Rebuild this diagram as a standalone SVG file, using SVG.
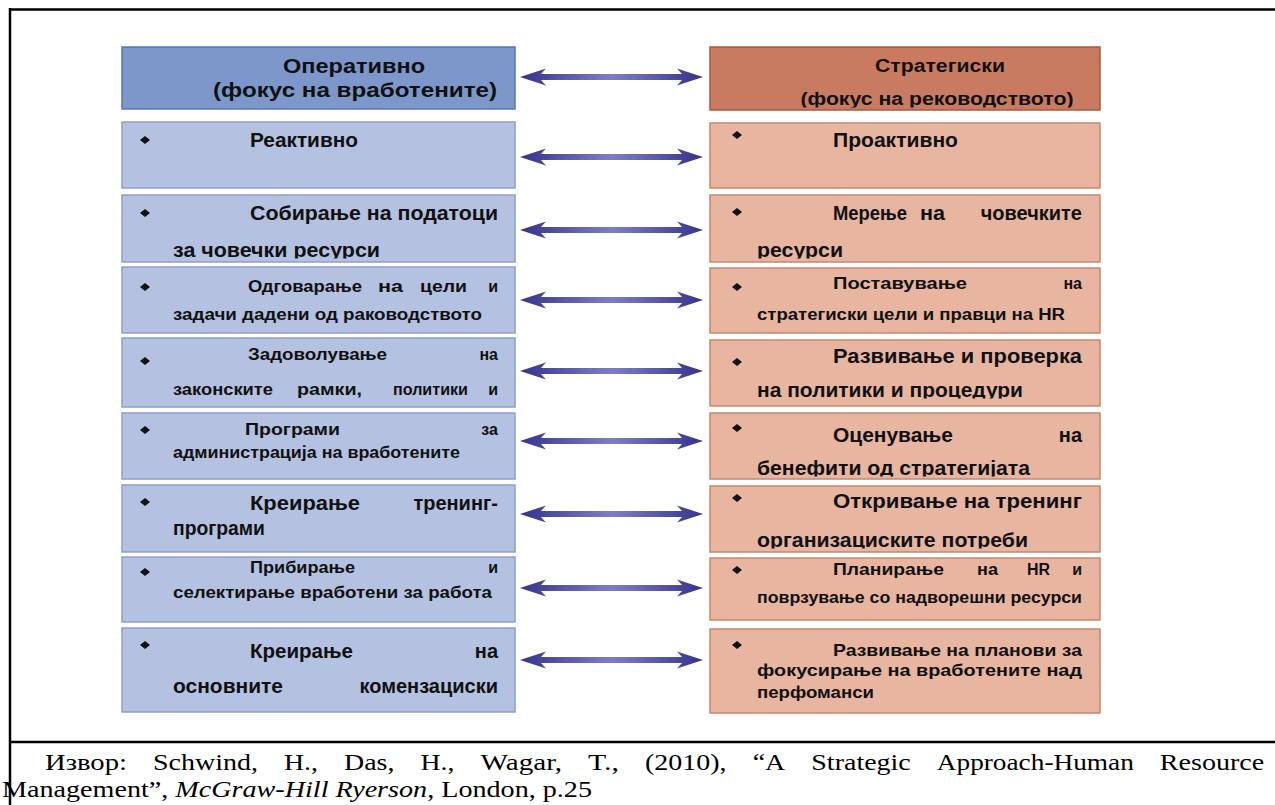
<svg xmlns="http://www.w3.org/2000/svg" xmlns:xlink="http://www.w3.org/1999/xlink" width="1275" height="805" viewBox="0 0 1275 805">
<style>
.t{font-family:"Liberation Sans",Arial,sans-serif;font-weight:bold;fill:#111;}
.h1{font-size:21px}
.h2{font-size:18px}
.b{font-size:20px}
.s{font-size:16px}
.m{font-size:17px}
.lh{fill:#7d97cb;stroke:#5876b3;stroke-width:1.5}
.rh{fill:#c97b62;stroke:#a9583f;stroke-width:1.5}
.lb{fill:#b4c1e1;stroke:#8d9fcb;stroke-width:1.5}
.rb{fill:#e8b5a1;stroke:#c98670;stroke-width:1.5}
.cap{font-family:"Liberation Serif","Times New Roman",serif;font-size:23px;fill:#000}
.frame{stroke:#000;stroke-width:2.5;fill:none}
</style>
<defs>
<linearGradient id="ag" x1="0" y1="0" x2="1" y2="0">
<stop offset="0" stop-color="#35338c"/>
<stop offset="0.5" stop-color="#7f7ec4"/>
<stop offset="1" stop-color="#35338c"/>
</linearGradient>
<path id="arrow" d="M520,0 L546,-8.5 L541,-3 L682,-3 L677,-8.5 L703,0 L677,8.5 L682,3 L541,3 L546,8.5 Z" fill="url(#ag)"/>
<path id="bul" d="M-5,0 L0,-4 L5,0 L0,4 Z" fill="#111"/>
<clipPath id="cRH"><rect x="710" y="47" width="390" height="60.5"/></clipPath>
<clipPath id="cL2"><rect x="122" y="195" width="393" height="63.5"/></clipPath>
<clipPath id="cR2"><rect x="710" y="195" width="390" height="63.5"/></clipPath>
<clipPath id="cR4"><rect x="710" y="340" width="390" height="58.5"/></clipPath>
<clipPath id="cR5"><rect x="710" y="413" width="390" height="63.5"/></clipPath>
<clipPath id="cR6"><rect x="710" y="486" width="390" height="62.5"/></clipPath>
</defs>

<g id="frame">
<line class="frame" x1="10" y1="8" x2="10" y2="805"/>
<line class="frame" x1="9" y1="9.5" x2="1275" y2="9.5"/>
<line class="frame" x1="9" y1="742" x2="1275" y2="742"/>
</g>

<g id="connectors">
<use xlink:href="#arrow" href="#arrow" y="77"/>
<use xlink:href="#arrow" href="#arrow" y="157"/>
<use xlink:href="#arrow" href="#arrow" y="230"/>
<use xlink:href="#arrow" href="#arrow" y="300"/>
<use xlink:href="#arrow" href="#arrow" y="371"/>
<use xlink:href="#arrow" href="#arrow" y="441"/>
<use xlink:href="#arrow" href="#arrow" y="514"/>
<use xlink:href="#arrow" href="#arrow" y="588"/>
<use xlink:href="#arrow" href="#arrow" y="660"/>
</g>

<g id="left-header">
<rect class="lh" x="122" y="47" width="393" height="62"/>
<text class="t h1" x="354" y="73" text-anchor="middle" textLength="142" lengthAdjust="spacingAndGlyphs">Оперативно</text>
<text class="t h1" x="355" y="97" text-anchor="middle" textLength="284" lengthAdjust="spacingAndGlyphs">(фокус на вработените)</text>
</g>

<g id="right-header">
<rect class="rh" x="710" y="47" width="390" height="63"/>
<text class="t h2" x="940" y="72" text-anchor="middle" textLength="130" lengthAdjust="spacingAndGlyphs">Стратегиски</text>
<g clip-path="url(#cRH)"><text class="t h2" x="937" y="105" text-anchor="middle" textLength="273" lengthAdjust="spacingAndGlyphs">(фокус на реководството)</text></g>
</g>

<g id="left-1">
<rect class="lb" x="122" y="122" width="393" height="66"/>
<use xlink:href="#bul" href="#bul" x="145" y="140"/>
<text class="t b" x="250" y="147" textLength="108" lengthAdjust="spacingAndGlyphs">Реактивно</text>
</g>

<g id="left-2">
<rect class="lb" x="122" y="195" width="393" height="67"/>
<use xlink:href="#bul" href="#bul" x="145" y="213"/>
<text class="t b" x="250" y="220" textLength="248" lengthAdjust="spacingAndGlyphs">Собирање на податоци</text>
<g clip-path="url(#cL2)"><text class="t b" x="173" y="257" textLength="207" lengthAdjust="spacingAndGlyphs">за човечки ресурси</text></g>
</g>

<g id="left-3">
<rect class="lb" x="122" y="267" width="393" height="66"/>
<use xlink:href="#bul" href="#bul" x="145" y="287"/>
<text class="t s" x="248" y="292" textLength="114" lengthAdjust="spacingAndGlyphs">Одговарање</text>
<text class="t s" x="378" y="292" textLength="25" lengthAdjust="spacingAndGlyphs">на</text>
<text class="t s" x="420" y="292" textLength="47" lengthAdjust="spacingAndGlyphs">цели</text>
<text class="t s" x="498" y="292" text-anchor="end">и</text>
<text class="t s" x="173" y="320" textLength="309" lengthAdjust="spacingAndGlyphs">задачи дадени од раководството</text>
</g>

<g id="left-4">
<rect class="lb" x="122" y="338" width="393" height="69"/>
<use xlink:href="#bul" href="#bul" x="145" y="361"/>
<text class="t s" x="248" y="360" textLength="139" lengthAdjust="spacingAndGlyphs">Задоволување</text>
<text class="t s" x="498" y="360" text-anchor="end">на</text>
<text class="t s" x="173" y="395" textLength="100" lengthAdjust="spacingAndGlyphs">законските</text>
<text class="t s" x="297" y="395" textLength="65" lengthAdjust="spacingAndGlyphs">рамки,</text>
<text class="t s" x="393" y="395" textLength="75" lengthAdjust="spacingAndGlyphs">политики</text>
<text class="t s" x="498" y="395" text-anchor="end">и</text>
</g>

<g id="left-5">
<rect class="lb" x="122" y="413" width="393" height="66"/>
<use xlink:href="#bul" href="#bul" x="145" y="430"/>
<text class="t s" x="245" y="435" textLength="95" lengthAdjust="spacingAndGlyphs">Програми</text>
<text class="t s" x="498" y="435" text-anchor="end">за</text>
<text class="t s" x="173" y="458" textLength="287" lengthAdjust="spacingAndGlyphs">администрација на вработените</text>
</g>

<g id="left-6">
<rect class="lb" x="122" y="485" width="393" height="67"/>
<use xlink:href="#bul" href="#bul" x="145" y="502"/>
<text class="t b" x="250" y="510" textLength="110" lengthAdjust="spacingAndGlyphs">Креирање</text>
<text class="t b" x="498" y="510" text-anchor="end">тренинг-</text>
<text class="t b" x="173" y="535" textLength="92" lengthAdjust="spacingAndGlyphs">програми</text>
</g>

<g id="left-7">
<rect class="lb" x="122" y="557" width="393" height="65"/>
<use xlink:href="#bul" href="#bul" x="145" y="572"/>
<text class="t s" x="250" y="573" textLength="105" lengthAdjust="spacingAndGlyphs">Прибирање</text>
<text class="t s" x="498" y="573" text-anchor="end">и</text>
<text class="t s" x="173" y="598" textLength="319" lengthAdjust="spacingAndGlyphs">селектирање вработени за работа</text>
</g>

<g id="left-8">
<rect class="lb" x="122" y="628" width="393" height="84"/>
<use xlink:href="#bul" href="#bul" x="145" y="645"/>
<text class="t b" x="250" y="658" textLength="103" lengthAdjust="spacingAndGlyphs">Креирање</text>
<text class="t b" x="498" y="658" text-anchor="end">на</text>
<text class="t b" x="173" y="693" textLength="110" lengthAdjust="spacingAndGlyphs">основните</text>
<text class="t b" x="498" y="693" text-anchor="end">комензациски</text>
</g>

<g id="right-1">
<rect class="rb" x="710" y="123" width="390" height="65"/>
<use xlink:href="#bul" href="#bul" x="737" y="135"/>
<text class="t b" x="833" y="147" textLength="125" lengthAdjust="spacingAndGlyphs">Проактивно</text>
</g>

<g id="right-2">
<rect class="rb" x="710" y="195" width="390" height="67"/>
<use xlink:href="#bul" href="#bul" x="737" y="212"/>
<text class="t b" x="833" y="220" textLength="74" lengthAdjust="spacingAndGlyphs">Мерење</text>
<text class="t b" x="920" y="220" textLength="25" lengthAdjust="spacingAndGlyphs">на</text>
<text class="t b" x="1082" y="220" text-anchor="end">човечките</text>
<g clip-path="url(#cR2)"><text class="t b" x="757" y="257" textLength="86" lengthAdjust="spacingAndGlyphs">ресурси</text></g>
</g>

<g id="right-3">
<rect class="rb" x="710" y="268" width="390" height="65"/>
<use xlink:href="#bul" href="#bul" x="737" y="287"/>
<text class="t s" x="833" y="289" textLength="134" lengthAdjust="spacingAndGlyphs">Поставување</text>
<text class="t s" x="1082" y="289" text-anchor="end">на</text>
<text class="t s" x="757" y="320" textLength="308" lengthAdjust="spacingAndGlyphs">стратегиски цели и правци на HR</text>
</g>

<g id="right-4">
<rect class="rb" x="710" y="340" width="390" height="66"/>
<use xlink:href="#bul" href="#bul" x="737" y="362"/>
<text class="t b" x="833" y="363" textLength="249" lengthAdjust="spacingAndGlyphs">Развивање и проверка</text>
<g clip-path="url(#cR4)"><text class="t b" x="757" y="397" textLength="266" lengthAdjust="spacingAndGlyphs">на политики и процедури</text></g>
</g>

<g id="right-5">
<rect class="rb" x="710" y="413" width="390" height="66"/>
<use xlink:href="#bul" href="#bul" x="737" y="428"/>
<text class="t b" x="833" y="442" textLength="120" lengthAdjust="spacingAndGlyphs">Оценување</text>
<text class="t b" x="1082" y="442" text-anchor="end">на</text>
<g clip-path="url(#cR5)"><text class="t b" x="757" y="475" textLength="273" lengthAdjust="spacingAndGlyphs">бенефити од стратегијата</text></g>
</g>

<g id="right-6">
<rect class="rb" x="710" y="486" width="390" height="66"/>
<use xlink:href="#bul" href="#bul" x="737" y="498"/>
<text class="t b" x="833" y="508" textLength="249" lengthAdjust="spacingAndGlyphs">Откривање на тренинг</text>
<g clip-path="url(#cR6)"><text class="t b" x="757" y="547" textLength="271" lengthAdjust="spacingAndGlyphs">организациските потреби</text></g>
</g>

<g id="right-7">
<rect class="rb" x="710" y="558" width="390" height="62"/>
<use xlink:href="#bul" href="#bul" x="737" y="570"/>
<text class="t s" x="833" y="575" textLength="111" lengthAdjust="spacingAndGlyphs">Планирање</text>
<text class="t s" x="977" y="575" textLength="21" lengthAdjust="spacingAndGlyphs">на</text>
<text class="t s" x="1027" y="575" textLength="23" lengthAdjust="spacingAndGlyphs">HR</text>
<text class="t s" x="1082" y="575" text-anchor="end">и</text>
<text class="t s" x="757" y="603" textLength="325" lengthAdjust="spacingAndGlyphs">поврзување со надворешни ресурси</text>
</g>

<g id="right-8">
<rect class="rb" x="710" y="629" width="390" height="84"/>
<use xlink:href="#bul" href="#bul" x="737" y="645"/>
<text class="t m" x="833" y="656" textLength="249" lengthAdjust="spacingAndGlyphs">Развивање на планови за</text>
<text class="t m" x="757" y="676" textLength="325" lengthAdjust="spacingAndGlyphs">фокусирање на вработените над</text>
<text class="t m" x="757" y="698" textLength="117" lengthAdjust="spacingAndGlyphs">перфоманси</text>
</g>

<g id="caption">
<text class="cap" x="45" y="770" textLength="82" lengthAdjust="spacingAndGlyphs">Извор:</text>
<text class="cap" x="153" y="770" textLength="105" lengthAdjust="spacingAndGlyphs">Schwind,</text>
<text class="cap" x="284" y="770" textLength="34" lengthAdjust="spacingAndGlyphs">H.,</text>
<text class="cap" x="344" y="770" textLength="50.5" lengthAdjust="spacingAndGlyphs">Das,</text>
<text class="cap" x="420.5" y="770" textLength="34" lengthAdjust="spacingAndGlyphs">H.,</text>
<text class="cap" x="480.5" y="770" textLength="81.6" lengthAdjust="spacingAndGlyphs">Wagar,</text>
<text class="cap" x="588" y="770" textLength="31" lengthAdjust="spacingAndGlyphs">T.,</text>
<text class="cap" x="645" y="770" textLength="81.6" lengthAdjust="spacingAndGlyphs">(2010),</text>
<text class="cap" x="752.7" y="770" textLength="32.6" lengthAdjust="spacingAndGlyphs">“A</text>
<text class="cap" x="811.3" y="770" textLength="99.5" lengthAdjust="spacingAndGlyphs">Strategic</text>
<text class="cap" x="936.8" y="770" textLength="197" lengthAdjust="spacingAndGlyphs">Approach-Human</text>
<text class="cap" x="1159.8" y="770" textLength="104.5" lengthAdjust="spacingAndGlyphs">Resource</text>
<text class="cap" x="2" y="797" textLength="590" lengthAdjust="spacingAndGlyphs">Management”, <tspan font-style="italic">McGraw-Hill Ryerson</tspan>, London, p.25</text>
</g>
</svg>
